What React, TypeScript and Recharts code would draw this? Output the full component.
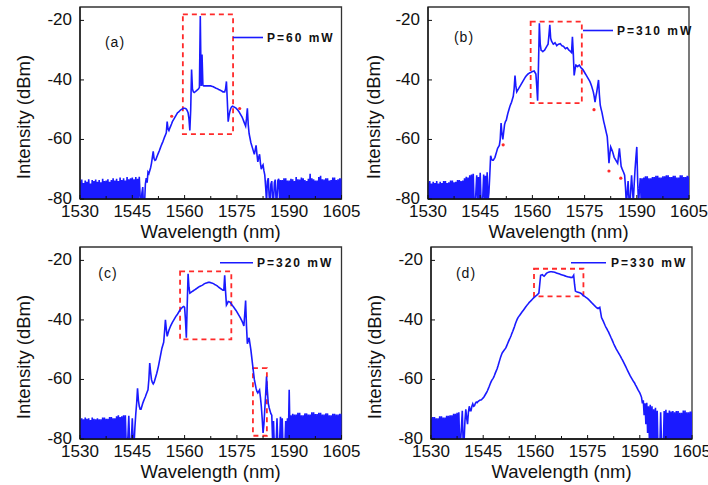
import React from 'react';
import { LineChart, Line, XAxis, YAxis, ReferenceArea, ReferenceDot } from 'recharts';

const WAVELENGTH = [
  1530, 1530.25, 1530.5, 1530.75, 1531, 1531.25, 1531.5, 1531.75, 1532, 1532.25, 1532.5, 1532.75, 1533, 1533.25, 1533.5, 1533.75, 1534, 1534.25, 1534.5, 1534.75,
  1535, 1535.25, 1535.5, 1535.75, 1536, 1536.25, 1536.5, 1536.75, 1537, 1537.25, 1537.5, 1537.75, 1538, 1538.25, 1538.5, 1538.75, 1539, 1539.25, 1539.5, 1539.75,
  1540, 1540.25, 1540.5, 1540.75, 1541, 1541.25, 1541.5, 1541.75, 1542, 1542.25, 1542.5, 1542.75, 1543, 1543.25, 1543.5, 1543.75, 1544, 1544.25, 1544.5, 1544.75,
  1545, 1545.25, 1545.5, 1545.75, 1546, 1546.25, 1546.5, 1546.75, 1547, 1547.25, 1547.5, 1547.75, 1548, 1548.25, 1548.5, 1548.75, 1549, 1549.25, 1549.5, 1549.75,
  1550, 1550.25, 1550.5, 1550.75, 1551, 1551.25, 1551.5, 1551.75, 1552, 1552.25, 1552.5, 1552.75, 1553, 1553.25, 1553.5, 1553.75, 1554, 1554.25, 1554.5, 1554.75,
  1555, 1555.25, 1555.5, 1555.75, 1556, 1556.25, 1556.5, 1556.75, 1557, 1557.25, 1557.5, 1557.75, 1558, 1558.25, 1558.5, 1558.75, 1559, 1559.25, 1559.5, 1559.75,
  1560, 1560.25, 1560.5, 1560.75, 1561, 1561.25, 1561.5, 1561.75, 1562, 1562.25, 1562.5, 1562.75, 1563, 1563.25, 1563.5, 1563.75, 1564, 1564.25, 1564.5, 1564.75,
  1565, 1565.25, 1565.5, 1565.75, 1566, 1566.25, 1566.5, 1566.75, 1567, 1567.25, 1567.5, 1567.75, 1568, 1568.25, 1568.5, 1568.75, 1569, 1569.25, 1569.5, 1569.75,
  1570, 1570.25, 1570.5, 1570.75, 1571, 1571.25, 1571.5, 1571.75, 1572, 1572.25, 1572.5, 1572.75, 1573, 1573.25, 1573.5, 1573.75, 1574, 1574.25, 1574.5, 1574.75,
  1575, 1575.25, 1575.5, 1575.75, 1576, 1576.25, 1576.5, 1576.75, 1577, 1577.25, 1577.5, 1577.75, 1578, 1578.25, 1578.5, 1578.75, 1579, 1579.25, 1579.5, 1579.75,
  1580, 1580.25, 1580.5, 1580.75, 1581, 1581.25, 1581.5, 1581.75, 1582, 1582.25, 1582.5, 1582.75, 1583, 1583.25, 1583.5, 1583.75, 1584, 1584.25, 1584.5, 1584.75,
  1585, 1585.25, 1585.5, 1585.75, 1586, 1586.25, 1586.5, 1586.75, 1587, 1587.25, 1587.5, 1587.75, 1588, 1588.25, 1588.5, 1588.75, 1589, 1589.25, 1589.5, 1589.75,
  1590, 1590.25, 1590.5, 1590.75, 1591, 1591.25, 1591.5, 1591.75, 1592, 1592.25, 1592.5, 1592.75, 1593, 1593.25, 1593.5, 1593.75, 1594, 1594.25, 1594.5, 1594.75,
  1595, 1595.25, 1595.5, 1595.75, 1596, 1596.25, 1596.5, 1596.75, 1597, 1597.25, 1597.5, 1597.75, 1598, 1598.25, 1598.5, 1598.75, 1599, 1599.25, 1599.5, 1599.75,
  1600, 1600.25, 1600.5, 1600.75, 1601, 1601.25, 1601.5, 1601.75, 1602, 1602.25, 1602.5, 1602.75, 1603, 1603.25, 1603.5, 1603.75, 1604, 1604.25, 1604.5, 1604.75,
  1605,
];

const X_TICKS = [1530, 1537.5, 1545, 1552.5, 1560, 1567.5, 1575, 1582.5, 1590, 1597.5, 1605];
const Y_TICKS = [-80, -60, -40, -20];

const INTENSITY_A = [
  -74, -81, -73.5, -80, -74.6, -81, -73.8, -80.5, -74.2, -81, -73.4, -80, -74.8, -81, -73.6, -80.5, -74, -81, -73.5, -80,
  -74.2, -81, -73.6, -80.5, -74.4, -81, -73.2, -80, -74, -81, -73.8, -80.5, -73.4, -81, -74.2, -80, -73.6, -81, -73, -80.5,
  -73.8, -81, -73.2, -80, -74, -81, -72.8, -80.5, -73.6, -81, -73, -80, -73.8, -81, -72.6, -80.5, -73.4, -81, -73, -80,
  -72.8, -81, -73.4, -80.5, -72.6, -81, -73.2, -80, -72.5, -79, -83, -78, -76, -84, -82, -75, -73, -74.5, -71, -71.5,
  -70.5, -69.5, -68, -66, -64, -66.5, -67, -66.8, -66, -65.2, -64.5, -63.8, -63, -62.2, -61.5, -60.8, -60, -59.2, -58.5, -57.8,
  -54, -56.5, -57, -56.2, -55.5, -54.8, -54, -53.5, -53, -52.5, -52, -51.5, -51, -50.8, -50.5, -50.2, -50, -49.8, -49.6, -49.5,
  -49.5, -49.6, -49.8, -50.3, -51, -53, -57, -50, -36.5, -43, -44, -44.2, -44, -43.8, -43.5, -43.3, -43, -42.5, -18.5, -42,
  -31.5, -41.8, -42, -42, -42, -42, -42, -42, -42, -42, -42, -42.1, -42.2, -42.3, -42.5, -42.6, -42.8, -42.9, -43, -43.2,
  -43.3, -43.5, -43.6, -43.8, -44, -44, -44, -43, -40.5, -47, -54, -52, -50.5, -49.5, -49, -48.8, -49, -49.1, -49.3, -49.5,
  -49.8, -50.1, -50.5, -51, -51.5, -52, -52.5, -53.2, -54, -54.8, -55.5, -53, -49.5, -55, -58, -59.5, -61, -62, -63, -64,
  -65, -63.5, -62, -65, -67.5, -66, -65, -68, -70, -69, -68.5, -70.5, -72, -76, -81, -74, -73, -79, -82, -75,
  -74, -80, -81, -74.5, -73.5, -81, -80, -73.8, -73.2, -81, -73.6, -80.5, -73.6, -81, -73, -80, -73, -81, -73.8, -80.5,
  -73.8, -81, -73.2, -80.5, -73.4, -81, -74, -80, -72.6, -81, -73.4, -80.5, -73.5, -81, -72.8, -80, -73, -81, -73.6, -80.5,
  -74, -81, -73.2, -80, -71.5, -81, -73, -80.5, -73.4, -81, -73.8, -80, -73.8, -81, -72.6, -80.5, -72.2, -81, -73.4, -80,
  -73.5, -81, -73, -80.5, -73, -81, -73.8, -80, -73.6, -81, -72.8, -80.5, -72.8, -81, -73.6, -80, -73.4, -81, -73, -80.5,
  -73,
];

const INTENSITY_B = [
  -74.5, -81, -74, -80.5, -74.8, -81, -74.2, -80, -74.6, -81, -74, -80.5, -74.8, -81, -74.2, -80, -74.6, -81, -74, -80.5,
  -74, -81, -74.6, -80.5, -74.4, -81, -73.8, -80, -73.8, -81, -74.4, -80.5, -74.2, -81, -73.6, -80, -73.6, -81, -74, -80.5,
  -73.8, -81, -73, -80.5, -72.5, -81, -72.8, -80, -72, -81, -71.8, -80.5, -71.5, -82, -83, -78, -72, -81, -72.6, -80,
  -71.2, -81, -82, -79, -71.8, -81, -72.2, -80, -71, -80.5, -78, -72, -65.5, -66.5, -67, -67, -66.5, -66, -65, -64,
  -63, -62.5, -62, -60, -54.5, -58, -60, -57.5, -55, -54, -53.5, -52.2, -51, -50, -49, -48.2, -47.5, -46.5, -45.5, -43,
  -38.5, -42, -44, -43.5, -43, -42.5, -42, -41.5, -41, -40.5, -40, -39.5, -39, -38.6, -38.3, -38, -37.8, -37.6, -37.5, -37.3,
  -37.2, -37.1, -37, -37.5, -38, -42, -47, -35, -21, -28, -30, -30.2, -30.5, -30.2, -30, -29.5, -29, -28.5, -28, -25,
  -21.5, -26, -27, -27.5, -28, -27.8, -27.5, -28, -28.5, -28.2, -28, -27.9, -27.8, -28.2, -28.5, -28.6, -28.8, -29.2, -29.5, -29.3,
  -29.2, -29.6, -30, -30.2, -30.5, -30.8, -25.5, -31, -38.5, -36.5, -35, -35.2, -35.5, -35.2, -35, -35.5, -36, -36.2, -36.5, -37,
  -37.5, -38, -38.5, -39, -39.5, -40, -40.5, -41.2, -42, -43, -44, -45.5, -47.5, -45.5, -44, -42, -40, -45, -48.5, -49.8,
  -51, -52.5, -54, -55.2, -56.5, -57.8, -59, -63, -68, -65, -62.5, -63.2, -64, -65, -66, -66.5, -67, -67.5, -68, -65.5,
  -63, -66, -69, -69.8, -70.5, -71.2, -72, -76, -82, -78, -74, -80, -83, -77, -72, -77, -81, -75, -70, -66,
  -62.5, -74, -82, -77, -73, -80.5, -73, -81, -72.8, -80, -72.4, -81, -72.4, -80.5, -73, -81, -73, -80, -72.6, -81,
  -72.6, -80.5, -72.2, -81, -72.2, -80, -72.8, -81, -72.8, -80.5, -72.4, -81, -72.4, -80, -72, -81, -72, -80.5, -72.6, -81,
  -72.6, -80, -72.2, -81, -72.2, -80.5, -72.8, -81, -72.8, -80, -72, -81, -72, -80.5, -72.6, -81, -72.6, -80, -72.2, -81,
  -72.4,
];

const INTENSITY_C = [
  -73.5, -81, -73, -80.5, -73.4, -81, -72.8, -80, -73.2, -81, -73, -80.5, -73.6, -81, -72.8, -80, -73.2, -81, -73.4, -80.5,
  -73, -81, -73.4, -80.5, -73.4, -81, -72.8, -80, -72.8, -81, -73.2, -80.5, -73.2, -81, -72.6, -80, -72.6, -81, -73, -80.5,
  -73, -81, -72.4, -80.5, -72, -81, -72.6, -80, -72.4, -81, -72, -80.5, -72, -82, -83, -79, -72.2, -82, -83, -80,
  -73, -81, -82, -76, -71.5, -68, -63, -67, -69, -70, -70, -69, -68, -67.2, -66.5, -65.8, -65, -64.2, -63.5, -60,
  -54.5, -57.5, -60, -61, -61.5, -61, -60, -59, -58, -56.8, -55.5, -54, -52.5, -51, -49.5, -48.5, -47.5, -44, -40, -43,
  -45.5, -44.5, -43.5, -42.7, -42, -41.4, -40.8, -40.3, -39.8, -39.3, -38.8, -38.4, -38, -37.5, -37, -36.6, -36.2, -35.9, -35.6, -35.5,
  -35.8, -40, -46, -35, -24.5, -29, -31, -30.8, -30.6, -30.4, -30.2, -30, -29.8, -29.6, -29.4, -29.2, -29, -28.8, -28.7, -28.5,
  -28.4, -28.2, -28, -27.8, -27.7, -27.6, -27.5, -27.4, -27.4, -27.4, -27.5, -27.6, -27.7, -27.8, -28, -28.2, -28.3, -28.5, -28.7, -29,
  -29.2, -29.4, -29.6, -29.8, -30, -30, -25, -30.5, -35, -34.5, -33.8, -33.9, -34, -34.4, -34.8, -35.2, -35.6, -36, -36.4, -36.8,
  -37.3, -37.8, -38.3, -38.8, -39.3, -39.9, -40.5, -41.2, -42, -38, -33.5, -42, -48, -47, -46, -48, -50, -52.5, -55, -57.5,
  -60, -61.5, -63, -64, -64.5, -64, -63.5, -66, -69, -73, -78, -75, -70, -65, -59, -64, -68, -69.5, -70.5, -71.5,
  -72, -81, -74, -83, -84, -82, -73, -82, -83, -81, -72.5, -80.5, -73, -84, -85, -83, -74, -81, -73, -80,
  -63.5, -80, -72, -81, -71.5, -80.5, -71.8, -81, -71.8, -80, -71.2, -80.5, -71.2, -81, -72, -80, -72, -81, -71.4, -80.5,
  -71.4, -81, -71.8, -80, -71.8, -81, -71, -80.5, -71, -81, -71.6, -80, -71.6, -81, -71.2, -80.5, -71.2, -81, -71.8, -80,
  -71.8, -81, -71.4, -80.5, -71.4, -81, -72, -80, -72, -81, -71.5, -80.5, -71.5, -81, -71.8, -80, -71.8, -81, -71.5, -80.5,
  -71.5,
];

const INTENSITY_D = [
  -73, -81, -72.6, -80.5, -72.6, -81, -73, -80, -73, -81, -72.4, -80.5, -72.4, -81, -72.8, -80, -72.8, -81, -72.2, -80.5,
  -72.2, -81, -72, -80.5, -72, -81, -71.5, -80, -71.5, -81, -71.2, -80.5, -71, -82, -81, -76, -70.5, -82, -81, -74,
  -70, -73, -75, -71, -69, -70.5, -70.5, -69, -68.2, -69, -68.8, -68, -67.6, -67.8, -67.4, -67.2, -67, -66.9, -66.8, -66.5,
  -66.2, -65.8, -65.3, -64.8, -64.3, -63.7, -63, -62.3, -61.5, -60.8, -60.2, -59.8, -59.3, -58.6, -57.8, -57.1, -56.4, -55.5, -54.5, -53.5,
  -52.5, -51.7, -51, -50.6, -50.2, -49.8, -49.4, -48.7, -48, -47.3, -46.6, -46, -45.3, -44.5, -43.8, -43, -42.2, -41.3, -40.5, -39.8,
  -39.2, -38.8, -38.4, -38, -37.6, -37.2, -36.8, -36.4, -36, -35.6, -35.2, -34.8, -34.5, -34.1, -33.8, -33.5, -33.2, -32.9, -32.6, -32.3,
  -32.1, -31.8, -31.6, -31.3, -31, -28, -25, -24.9, -24.8, -25.1, -25.3, -25, -24.6, -24.3, -24.1, -24, -23.9, -23.8, -23.8, -23.8,
  -23.9, -23.9, -24, -24.1, -24.2, -24.3, -24.4, -24.5, -24.6, -24.7, -24.8, -24.9, -25, -25.1, -25.2, -25.3, -25.4, -25.5, -25.6, -25.6,
  -25.7, -25.7, -25.8, -25.5, -25, -28, -30.3, -30.5, -30.6, -30.7, -30.8, -30.9, -31, -31.2, -31.5, -31.8, -32, -32.2, -32.4, -32.6,
  -32.8, -33.1, -33.4, -33.7, -34, -34.3, -34.6, -34.9, -35.2, -35.5, -35.8, -36, -36.2, -36, -35.8, -37.5, -39.2, -39.8, -40.4, -41.1,
  -41.8, -42.4, -42.9, -43.5, -44, -44.7, -45.3, -46, -46.6, -47.3, -48, -48.6, -49.2, -49.8, -50.3, -50.8, -51.3, -51.8, -52.3, -52.9,
  -53.4, -54, -54.6, -55.2, -55.8, -56.4, -57, -57.6, -58.2, -58.8, -59.3, -59.8, -60.3, -60.8, -61.2, -61.8, -62.3, -62.9, -63.5, -64,
  -64.5, -65.2, -66, -68, -67, -72, -68, -75, -67.8, -78, -69, -80, -68.5, -82, -69, -83, -70, -82, -69.5, -84,
  -70.5, -85, -83, -84, -71, -82, -84, -83, -70.6, -81, -70.2, -80.5, -71.2, -81, -70.4, -80, -70.8, -81, -70.6, -80.5,
  -71, -81, -70.6, -80.5, -70.6, -81, -71.2, -80, -71.2, -81, -70.4, -80.5, -70.4, -81, -71, -80, -71, -81, -70.8, -80.5,
  -70.8,
];

// dashed boxes: [x1, x2, y1, y2]
const BOXES_A = [[1559.5, 1573.9, -58.2, -18]];
const BOXES_B = [[1559.5, 1574.2, -47.8, -20.4]];
const BOXES_C = [[1558.7, 1573.4, -46.5, -23.7], [1579.6, 1583.6, -78.9, -56.2]];
const BOXES_D = [[1559.6, 1573.8, -32.1, -22.8]];

// red marks: [x, y]
const DOTS_A = [[1556.3, -52.2], [1575.8, -49.6]];
const DOTS_B = [[1551.6, -61.8], [1577.7, -50], [1582, -70.6], [1585.4, -73]];
const DOTS_C: number[][] = [];
const DOTS_D: number[][] = [];

const LEGEND_LABELS = ['P=60 mW', 'P=310 mW', 'P=320 mW', 'P=330 mW'];
const PANEL_LETTERS = ['(a)', '(b)', '(c)', '(d)'];

const FONT = '"Liberation Sans", Arial, Helvetica, sans-serif';
const BLUE = '#1a1aff';
const RED = '#ff2a2a';
const INK = '#111';
const Y_TOP = -15.5;

const LAYOUT = [
  { left: 0, top: 0, w: 372, yw: 80, mr: 30.5, xt: [210.7, 238], yt: [23, 117], lg: [233, 263, 37.5], lt: 267, lc: [115, 42] },
  { left: 354, top: 0, w: 354, yw: 74, mr: 19, xt: [558.5, 238], yt: [373, 117], lg: [583, 613, 30.5], lt: 617, lc: [464, 37] },
  { left: 0, top: 240, w: 372, yw: 80, mr: 30.5, xt: [210.7, 478], yt: [23, 357], lg: [220, 253, 262.7], lt: 257, lc: [108, 273] },
  { left: 354, top: 240, w: 354, yw: 77, mr: 16, xt: [561.5, 478], yt: [374, 357], lg: [571, 606, 262.7], lt: 611, lc: [466, 273] },
];

const XTick = (props: any) => {
  const { x, y, payload } = props;
  const major = payload.value % 15 === 0;
  return (
    <g>
      <line x1={x} x2={x} y1={y} y2={y - (major ? 4 : 3)} stroke={INK} strokeWidth={1} />
      {major && (
        <text x={x} y={y + 18} textAnchor="middle" fontSize={17} fill={INK} fontFamily={FONT}>
          {payload.value}
        </text>
      )}
    </g>
  );
};

const YTick = (props: any) => {
  const { x, y, payload } = props;
  return (
    <g>
      <line x1={x} x2={x + 4} y1={y} y2={y} stroke={INK} strokeWidth={1} />
      <text x={x - 8} y={y + 5} textAnchor="end" fontSize={17} fill={INK} fontFamily={FONT}>
        {payload.value}
      </text>
    </g>
  );
};

function Panel({ idx, values, boxes, dots }: { idx: number; values: number[]; boxes: number[][]; dots: number[][] }) {
  const L = LAYOUT[idx];
  const data = WAVELENGTH.map((wl, i) => ({ wl, v: values[i] }));
  return (
    <div style={{ position: 'absolute', left: L.left, top: L.top }}>
      <LineChart width={L.w} height={240} data={data} margin={{ top: 7, right: L.mr, bottom: 0, left: 0 }}>
        <XAxis
          dataKey="wl"
          type="number"
          domain={[1530, 1605]}
          ticks={X_TICKS}
          interval={0}
          allowDataOverflow
          height={41}
          tickLine={false}
          tickSize={0}
          tickMargin={0}
          axisLine={{ stroke: INK, strokeWidth: 1.3 }}
          tick={(p: any) => <XTick {...p} />}
        />
        <YAxis
          type="number"
          domain={[-80, Y_TOP]}
          ticks={Y_TICKS}
          interval={0}
          allowDataOverflow
          width={L.yw}
          tickLine={false}
          tickSize={0}
          tickMargin={0}
          axisLine={{ stroke: INK, strokeWidth: 1.3 }}
          tick={(p: any) => <YTick {...p} />}
        />
        <ReferenceArea x1={1530} x2={1605} y1={-80} y2={Y_TOP} fill="none" fillOpacity={0} stroke="#333" strokeWidth={1.3} />
        {boxes.map((b, i) => (
          <ReferenceArea
            key={'b' + i}
            x1={b[0]}
            x2={b[1]}
            y1={b[2]}
            y2={b[3]}
            fill="none"
            fillOpacity={0}
            stroke={RED}
            strokeWidth={1.8}
            strokeDasharray="5 4"
          />
        ))}
        <Line dataKey="v" type="linear" stroke={BLUE} strokeWidth={1.6} dot={false} activeDot={false} isAnimationActive={false} />
        {dots.map((d, i) => (
          <ReferenceDot key={'d' + i} x={d[0]} y={d[1]} r={1.6} fill={RED} stroke="none" />
        ))}
      </LineChart>
    </div>
  );
}

export default function App() {
  return (
    <div style={{ position: 'absolute', left: 0, top: 0, width: 708, height: 485, background: '#fff', fontFamily: FONT, overflow: 'hidden' }}>
      <Panel idx={0} values={INTENSITY_A} boxes={BOXES_A} dots={DOTS_A} />
      <Panel idx={1} values={INTENSITY_B} boxes={BOXES_B} dots={DOTS_B} />
      <Panel idx={2} values={INTENSITY_C} boxes={BOXES_C} dots={DOTS_C} />
      <Panel idx={3} values={INTENSITY_D} boxes={BOXES_D} dots={DOTS_D} />
      <svg width={708} height={485} style={{ position: 'absolute', left: 0, top: 0, pointerEvents: 'none' }}>
        {LAYOUT.map((L, i) => (
          <g key={i} fontFamily={FONT} fill={INK}>
            <text x={L.xt[0]} y={L.xt[1]} textAnchor="middle" fontSize={18.5}>
              Wavelength (nm)
            </text>
            <text
              x={L.yt[0]}
              y={L.yt[1]}
              transform={`rotate(-90 ${L.yt[0]} ${L.yt[1]})`}
              textAnchor="middle"
              dominantBaseline="central"
              fontSize={18.5}
            >
              Intensity (dBm)
            </text>
            <line x1={L.lg[0]} x2={L.lg[1]} y1={L.lg[2]} y2={L.lg[2]} stroke={BLUE} strokeWidth={1.6} />
            <text x={L.lt} y={L.lg[2]} dominantBaseline="central" fontSize={12} fontWeight="bold" letterSpacing={2}>
              {LEGEND_LABELS[i]}
            </text>
            <text x={L.lc[0]} y={L.lc[1]} textAnchor="middle" dominantBaseline="central" fontSize={14} letterSpacing={1}>
              {PANEL_LETTERS[i]}
            </text>
          </g>
        ))}
      </svg>
    </div>
  );
}
